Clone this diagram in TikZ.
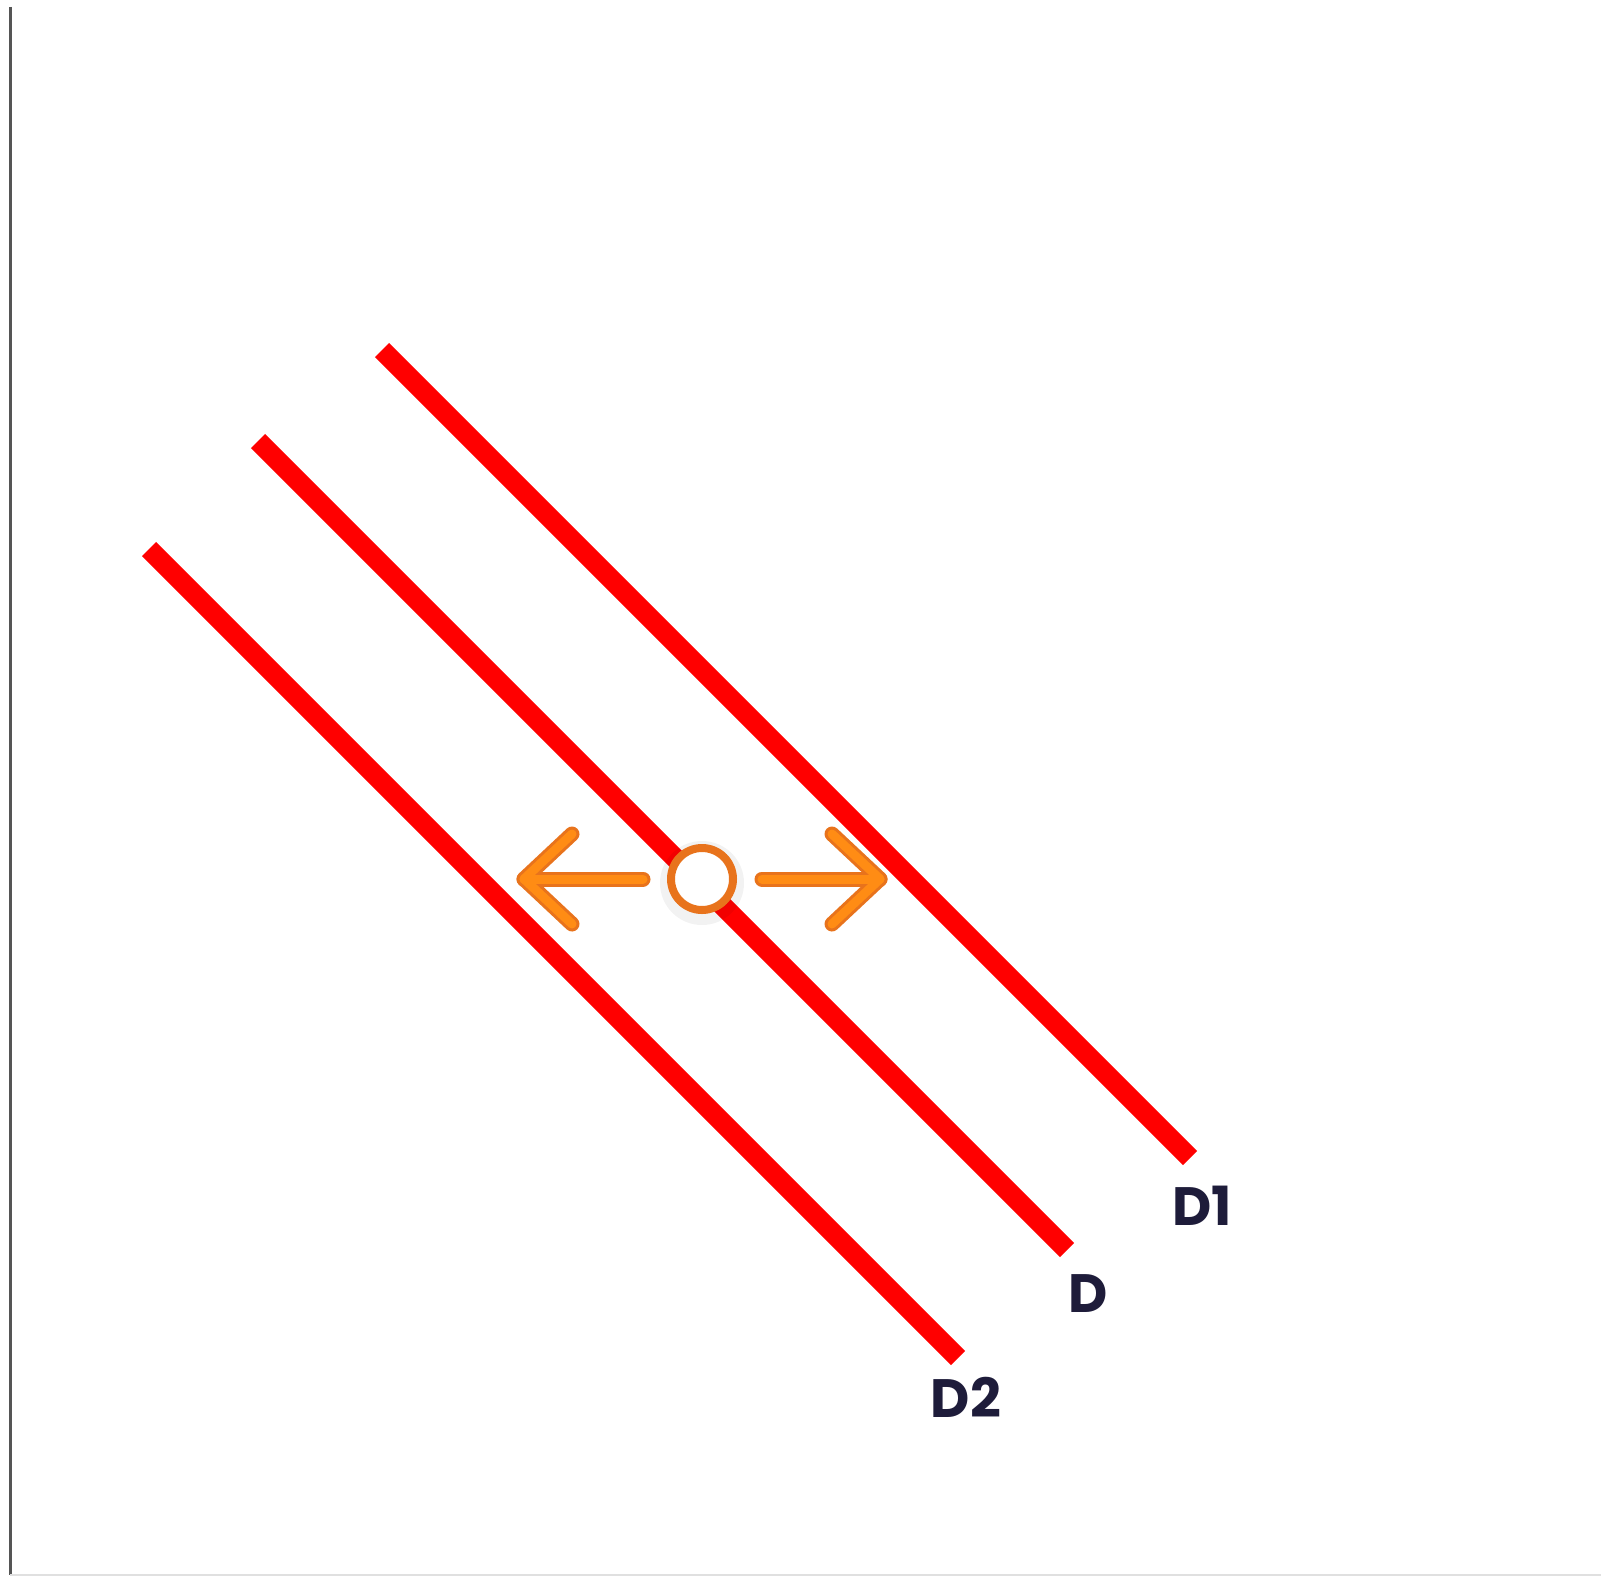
\documentclass[tikz,border=0pt]{standalone}
\usepackage{fontspec}
\newfontfamily\popfont{Poppins}
\definecolor{demandred}{HTML}{FF0000}
\definecolor{labelnavy}{HTML}{1E1C3A}
\definecolor{orangefill}{HTML}{FF8C14}
\definecolor{orangeedge}{HTML}{E8731C}
\definecolor{axisgray}{HTML}{555555}
\tikzset{
  curve/.style={draw=demandred, line width=20pt, line cap=butt},
  curvelabel/.style={text=labelnavy, font=\popfont\bfseries\fontsize{54}{60}\selectfont, inner sep=0pt},
  arrowedge/.style={draw=orangeedge, line width=15pt, line cap=round, line join=round},
  arrowcore/.style={draw=orangefill, line width=9pt, line cap=round, line join=round},
  pointnode/.style={circle, draw=orangeedge, fill=white, line width=8pt, minimum size=62pt, inner sep=0pt}
}
\begin{document}
\begin{tikzpicture}[x=1pt, y=-1pt]
\useasboundingbox (0,0) rectangle (1601,1579);
\fill[white] (0,0) rectangle (1601,1579);
% axes
\coordinate (ytop) at (10,7);
\coordinate (origin) at (10,1575);
\coordinate (xend) at (1601,1575);
\draw[draw=axisgray, line width=3pt] (ytop) -- (origin);
\draw[draw=black!12, line width=2pt] (origin) -- (xend);
% demand curves
\coordinate (d1a) at (382,350);
\coordinate (d1b) at (1190,1158);
\coordinate (da) at (258,441);
\coordinate (db) at (1067,1250);
\coordinate (d2a) at (149,549);
\coordinate (d2b) at (958,1358);
\draw[curve] (d1a) -- (d1b);
\draw[curve] (da) -- (db);
\draw[curve] (d2a) -- (d2b);
% labels
\node[curvelabel] (lD1) at (1202,1206) {D1};
\node[curvelabel] (lD) at (1088,1294) {D};
\node[curvelabel] (lD2) at (966,1397) {D2};
% soft shadow behind the point
\fill[black, opacity=0.05] (702,883) circle (42pt);
% arrows
\coordinate (lstart) at (643,879);
\coordinate (ltip) at (524,879);
\coordinate (lup) at (572,834);
\coordinate (ldn) at (572,924);
\coordinate (rstart) at (762,879);
\coordinate (rtip) at (880,879);
\coordinate (rup) at (832,834);
\coordinate (rdn) at (832,924);
\foreach \s in {arrowedge, arrowcore}{
  \draw[\s] (lstart) -- (ltip);
  \draw[\s] (lup) -- (ltip) -- (ldn);
  \draw[\s] (rstart) -- (rtip);
  \draw[\s] (rup) -- (rtip) -- (rdn);
}
% equilibrium point
\node[pointnode] (pt) at (702,879) {};
\end{tikzpicture}
\end{document}
